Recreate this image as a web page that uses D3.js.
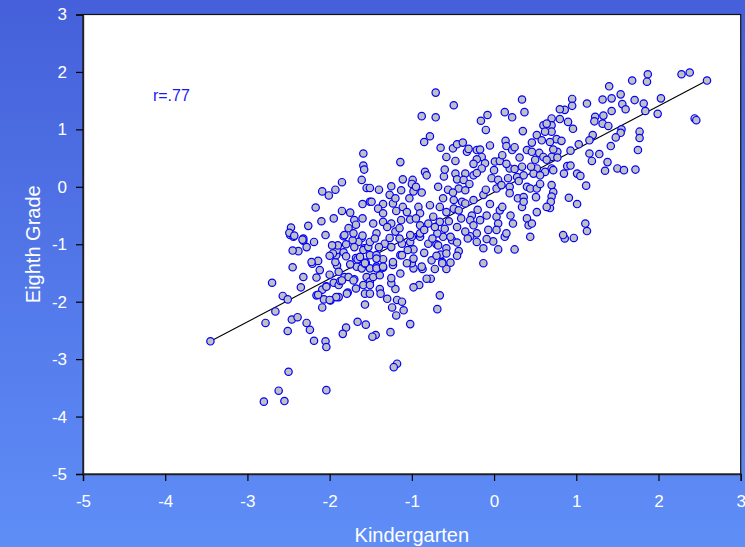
<!DOCTYPE html>
<html>
<head>
<meta charset="utf-8">
<script src="https://cdn.jsdelivr.net/npm/d3@7"></script>
<style>
body{margin:0;padding:0;overflow:hidden;}
text{font-family:"Liberation Sans",Arial,sans-serif;}
</style>
</head>
<body>
<svg id="chart" width="745" height="547"></svg>
<script>
const xTicks = [-5,-4,-3,-2,-1,0,1,2,3];
const yTicks = [-5,-4,-3,-2,-1,0,1,2,3];
const xLabel = "Kindergarten";
const yLabel = "Eighth Grade";
const rLabel = "r=.77";
const fitSlope = 0.752;
const fitIntercept = -0.096;

const points = [
[-3.45,-2.69],[-2.78,-2.37],[-2.66,-2.17],[-2.70,-1.67],[-2.57,-1.90],[-2.51,-1.96],[-2.51,-2.51],[-2.46,-2.31],[-2.39,-2.27],[-2.28,-2.37],[-2.24,-2.49],[-2.19,-2.68],[-2.05,-2.69],[-2.04,-2.79],[-2.50,-3.22],[-2.62,-3.55],[-2.80,-3.74],[-2.55,-3.73],[-2.04,-3.54],
[-2.45,-1.40],[-2.38,-1.12],[-2.32,-1.57],[-2.35,-1.75],[-2.32,-0.94],[-2.19,-0.96],[-2.48,-0.84],[-2.44,-0.87],[-2.05,-0.84],[-2.21,-1.34],[-2.14,-1.29],[-2.12,-1.45],[-2.16,-1.58],[-2.00,-1.53],[-1.95,-1.67],[-2.04,-1.73],[-2.09,-1.79],[-2.16,-1.89],[-2.07,-1.96],[-1.99,-1.98],[-2.09,-2.10],[-1.89,-1.92],[-1.89,-1.71],[-1.87,-1.64],[-1.82,-1.57],
[-1.91,-1.37],[-1.93,-1.31],[-1.92,-1.19],[-1.91,-1.10],[-1.90,-1.02],[-1.83,-1.14],[-1.80,-1.21],[-1.68,-1.24],[-1.78,-1.84],[-1.68,-1.77],[-1.70,-1.61],[-1.57,-2.05],[-1.66,-2.35],[-1.56,-2.40],[-1.80,-2.45],[-1.84,-2.56],[-1.67,-1.39],[-1.56,-1.32],[-1.58,-1.07],[-1.61,-0.89],[-1.65,-0.96],[-1.72,-0.93],[-1.83,-0.86],[-1.97,-1.02],
[-1.96,-1.16],[-1.89,-1.48],[-1.85,-1.63],[-1.77,-1.57],[-1.71,-1.63],[-1.59,-1.71],[-1.57,-1.86],[-1.55,-1.57],[-1.61,-1.42],[-1.57,-1.34],[-1.63,-1.25],[-1.59,-1.10],[-1.53,-1.05],[-1.51,-1.19],[-1.79,-1.86],[-1.92,-1.92],[-2.00,-1.97],[-2.04,-1.74],[-2.14,-1.88],[-1.66,-1.26],[-1.51,-1.42],[-1.51,-1.65],[-1.51,-1.86],
[0.44,-0.87],[0.13,-0.87],[0.25,-1.09],[0.05,-1.09],[-0.13,-1.33],[-0.13,-1.07],[-0.01,-0.95],[-0.09,-0.91],[-0.21,-0.96],[-0.29,-0.86],
[-0.51,-0.93],[-0.45,-0.97],[-0.43,-1.12],[-0.45,-1.20],[-0.53,-1.32],[-0.58,-1.43],[-0.63,-1.31],[-0.65,-1.18],[-0.70,-1.00],[-0.62,-0.87],[-0.58,-1.07],
[-0.72,-1.43],[-0.77,-1.60],[-0.82,-1.60],[-0.87,-1.43],[-0.91,-1.71],[-0.98,-1.75],[-0.66,-1.89],[-0.69,-2.13],[-1.02,-2.39],[-1.26,-2.53],[-1.18,-3.08],[-1.22,-3.14],[-1.44,-2.58],[-1.48,-2.61],
[-1.10,-2.15],[-1.19,-2.24],[-1.24,-2.10],[-1.18,-1.97],[-1.12,-2.00],[-1.30,-1.95],[-1.39,-1.78],[-1.38,-1.86],[-1.20,-1.78],[-1.25,-1.68],
[-0.98,-1.42],[-1.00,-1.33],[-1.14,-1.51],[-1.25,-1.59],[-1.23,-1.36],[-1.35,-1.41],[-1.43,-1.39],[-1.47,-1.57],[-1.39,-1.54],[-1.51,-1.71],
[-1.43,-1.19],[-1.35,-1.26],[-1.33,-0.99],[-1.14,-1.19],[-1.12,-0.99],[-1.02,-0.96],[-0.98,-1.09],[-1.27,-0.89],[-1.51,-0.96],[-1.43,-1.42],
[-0.80,-0.99],[-0.68,-1.02],[-0.90,-0.87],[-1.00,-0.87],
[0.86,-0.90],[0.97,-0.89],
[2.59,1.85],[2.28,1.96],[2.38,1.99],[1.87,1.96],[1.86,1.83],[1.68,1.85],[1.40,1.75],[1.54,1.61],[1.43,1.54],[1.32,1.52],[0.95,1.53],[0.95,1.41],[0.86,1.34],[0.80,1.35],[1.13,1.45],[1.56,1.44],[1.60,1.35],[1.71,1.51],[1.82,1.45],[2.03,1.54],[1.84,1.32],[1.99,1.27],[1.43,1.32],
[1.33,1.24],[1.23,1.22],[1.22,1.14],[1.32,1.10],[1.39,1.06],[2.44,1.19],[2.46,1.16],[0.80,1.18],[0.90,1.13],[0.96,1.01],[0.70,1.19],[0.70,1.07],[0.70,0.96],
[1.55,1.00],[1.54,0.94],[1.48,0.86],[1.42,0.71],[1.77,0.96],[1.77,0.85],[1.75,0.64],[1.20,0.90],[1.16,0.81],[1.03,0.74],[0.93,0.63],
[0.76,0.83],[0.82,0.80],[0.77,0.61],[0.72,0.65],[0.70,0.52],[0.77,0.51],[1.16,0.58],[1.28,0.57],[1.19,0.45],[1.38,0.43],[1.35,0.28],[1.50,0.32],[1.58,0.29],[1.72,0.30],
[0.89,0.36],[0.93,0.37],[0.85,0.23],[1.01,0.23],[1.05,0.19],[0.70,0.32],[0.72,0.29],[1.12,0.02],[0.70,0.03],[0.72,-0.09],[0.70,-0.17],[0.91,-0.19],[1.01,-0.30],[1.11,-0.64],[1.13,-0.77],[0.84,-0.84],[0.68,-0.37],[0.69,-0.26],
[-1.59,0.58],[-1.59,0.37],[-1.58,0.30],[-1.61,0.12],[-1.55,-0.02],[-1.51,-0.26],[-1.85,0.08],[-1.93,-0.05],[-2.01,-0.15],[-2.09,-0.08],[-2.17,-0.36],[-1.85,-0.42],[-1.70,-0.58],[-1.60,-0.55],[-1.68,-0.66],[-1.77,-0.72],[-2.26,-0.68],[-2.47,-0.71],[-2.49,-0.80],[-2.43,-0.85],[-1.82,-0.84],[-1.71,-0.81],[-1.60,-0.85],[-2.32,-0.90],
[-0.71,1.64],[-0.49,1.42],[-0.88,1.23],[-0.71,1.21],[0.34,1.52],[0.37,1.30],[0.13,1.30],[0.22,1.21],[-0.08,1.25],[-0.16,1.15],[-0.10,0.99],[0.35,0.97],[-0.78,0.88],[-0.85,0.78],
[0.52,0.90],[0.60,1.07],[0.64,1.10],[0.62,0.96],[0.68,0.78],[0.58,0.81],[0.46,0.77],[0.14,0.80],[0.15,0.71],[0.22,0.64],[0.25,0.69],[-0.05,0.72],
[-0.65,0.68],[-0.50,0.67],[-0.45,0.74],[-0.38,0.77],[-0.33,0.61],[-0.31,0.66],[-0.21,0.64],[-0.17,0.65],[-0.15,0.52],[-0.21,0.48],[-0.58,0.52],[-0.47,0.45],[-1.14,0.43],
[0.31,0.51],[0.40,0.64],[0.46,0.61],[0.55,0.59],[0.50,0.47],[0.60,0.52],[0.64,0.47],
[0.01,0.44],[0.07,0.45],[-0.11,0.41],[-0.15,0.32],[0.00,0.29],[0.19,0.32],[0.25,0.31],[0.34,0.35],[0.52,0.32],[0.48,0.23],[0.62,0.26],[0.56,0.20],
[-0.84,0.26],[-0.82,0.20],[-0.61,0.18],[-0.47,0.23],[-0.35,0.23],[-0.45,0.13],[-0.37,0.12],[-0.25,0.20],[-0.21,0.24],
[-0.03,0.15],[0.05,0.12],[0.17,0.15],[0.28,0.17],[0.36,0.20],
[-1.11,0.13],[-0.99,0.12],[-1.00,0.05],[-1.25,0.01],[-1.40,-0.05],[-1.51,-0.02],
[-0.68,0.00],[-0.56,-0.05],[-0.43,-0.03],[-0.35,-0.06],
[0.03,-0.03],[0.09,0.03],[0.19,0.00],[0.40,0.00],[0.44,-0.03],[0.52,-0.03],[0.56,0.05],
[-1.13,-0.06],[-0.98,-0.08],[-0.88,-0.10],
[-1.27,-0.14],[-1.03,-0.20],[-1.49,-0.26],[-1.35,-0.30],[-1.23,-0.29],[-1.11,-0.35],[-0.92,-0.35],[-0.78,-0.32],[-0.66,-0.35],[-0.62,-0.20],[-0.49,-0.23],[-0.39,-0.26],[-0.25,-0.23],[-0.13,-0.14],[0.19,-0.11],[0.29,-0.20],[0.36,-0.18],[0.51,-0.18],[0.64,-0.35],
[0.34,-0.35],[0.36,-0.26],[0.52,-0.44],[0.40,-0.55],
[-1.41,-0.38],[-1.35,-0.46],[-1.19,-0.42],[-1.06,-0.44],[-0.90,-0.46],[-0.74,-0.52],[-0.58,-0.44],[-0.49,-0.38],[-0.43,-0.41],[-0.35,-0.29],[-0.27,-0.50],[-0.17,-0.58],[-0.09,-0.50],[0.03,-0.52],[0.07,-0.41],
[-1.47,-0.64],[-1.35,-0.61],[-1.25,-0.64],[-1.13,-0.58],[-1.02,-0.57],[-0.90,-0.67],[-0.80,-0.64],[-0.66,-0.61],[-0.60,-0.73],[-0.45,-0.70],[-0.29,-0.58],[-0.25,-0.67],[-0.07,-0.75],[0.05,-0.64],[0.15,-0.81],[0.23,-0.64],[0.42,-0.67],[0.46,-0.64],
[-1.43,-0.81],[-1.20,-0.78],[-1.02,-0.84],[-0.90,-0.81],[-0.69,-0.81],[-0.53,-0.87],[-0.35,-0.78],[-0.21,-0.81],[0.03,-0.75],
[-2.33,-0.92],[-2.22,-1.31],[-2.45,-1.11],
[-1.63,-1.22],[-1.57,-1.33],[-1.43,-1.25],[-1.35,-1.39],[-1.23,-1.31],[-1.12,-1.19],[-1.06,-1.33],[-0.98,-1.25],[-0.88,-1.39],[-0.76,-1.28],[-0.63,-1.33],[-0.58,-1.16],
[-1.30,-0.70],[-1.15,-0.72],[-0.95,-0.55],[-0.85,-0.75],[-0.75,-0.90],[-0.72,-0.70],[-0.55,-0.60],[-0.40,-0.55],[-0.32,-0.90],[-0.20,-0.40],[-0.05,-0.30],[0.10,-0.35],[0.20,-0.50],
[-1.05,-1.10],[-0.85,-1.15],[-0.70,-1.20],[-1.25,-1.05],[-1.40,-1.05],[-1.70,-1.05],[-1.75,-1.35],[-1.45,-0.90],[-1.15,-0.90],
[-0.50,-0.10],[-0.30,0.05],[-0.10,-0.05],[0.15,0.40],[0.30,0.10],[0.45,0.35],[0.10,0.55],[-0.25,0.40],[-0.60,0.30],[-0.95,0.00],[-1.20,-0.20],
[-1.60,-0.30],[-1.75,-0.45],[-1.95,-0.55],[-2.10,-0.60],[-2.00,-1.20],[-2.28,-1.05],[-1.80,-1.00]
];

const svg = d3.select("#chart");
const W = 745, H = 547;
const defs = svg.append("defs");
const grad = defs.append("linearGradient").attr("id","bg").attr("x1","0").attr("y1","0").attr("x2","0").attr("y2","1");
grad.append("stop").attr("offset","0").attr("stop-color","#4560da");
grad.append("stop").attr("offset","1").attr("stop-color","#5f8ef7");
svg.append("rect").attr("width",W).attr("height",H).attr("fill","url(#bg)");

const L = 83, R = 740.7, T = 14.5, B = 474;
const x = d3.scaleLinear().domain([-5,3]).range([L,R]);
const y = d3.scaleLinear().domain([-5,3]).range([B,T]);

svg.append("rect").attr("x",L).attr("y",T).attr("width",R-L).attr("height",B-T)
  .attr("fill","#ffffff").attr("stroke","#111").attr("stroke-width",1.2);

const xAxis = svg.append("g").attr("transform",`translate(0,${B})`)
  .call(d3.axisBottom(x).tickValues(xTicks).tickFormat(d3.format("d")).tickSize(7).tickPadding(14));
const yAxis = svg.append("g").attr("transform",`translate(${L},0)`)
  .call(d3.axisLeft(y).tickValues(yTicks).tickFormat(d3.format("d")).tickSize(7).tickPadding(9));
[xAxis,yAxis].forEach(g=>{
  g.select(".domain").attr("stroke","#222").attr("stroke-width",1.4);
  g.selectAll(".tick line").attr("stroke","#000").attr("stroke-width",1.2);
  g.selectAll(".tick text").attr("fill","#ffffff").attr("font-size",17)
   .attr("font-family","'Liberation Sans',Arial,sans-serif").text(d=>d<0?"-"+Math.abs(d):String(d));
});

const plot = svg.append("g");
const xs = points.map(p=>p[0]);
const x0 = d3.min(xs), x1 = d3.max(xs);
plot.append("line")
  .attr("x1",x(x0)).attr("y1",y(fitIntercept+fitSlope*x0))
  .attr("x2",x(x1)).attr("y2",y(fitIntercept+fitSlope*x1))
  .attr("stroke","#000").attr("stroke-width",1.1);

plot.selectAll("circle").data(points).join("circle")
  .attr("cx",d=>x(d[0])).attr("cy",d=>y(d[1])).attr("r",3.7)
  .attr("fill","#c0c0c0").attr("stroke","#0000ff").attr("stroke-width",1.2);

svg.append("text").attr("x",x(-4.15)).attr("y",y(1.49)).attr("fill","#1a1aee")
  .attr("font-size",16).text(rLabel);

svg.append("text").attr("x",(L+R)/2).attr("y",542).attr("text-anchor","middle")
  .attr("fill","#ffffff").attr("font-size",20).text(xLabel);
svg.append("text").attr("transform",`translate(40,${(T+B)/2}) rotate(-90)`).attr("text-anchor","middle")
  .attr("fill","#ffffff").attr("font-size",20).text(yLabel);
</script>
</body>
</html>
